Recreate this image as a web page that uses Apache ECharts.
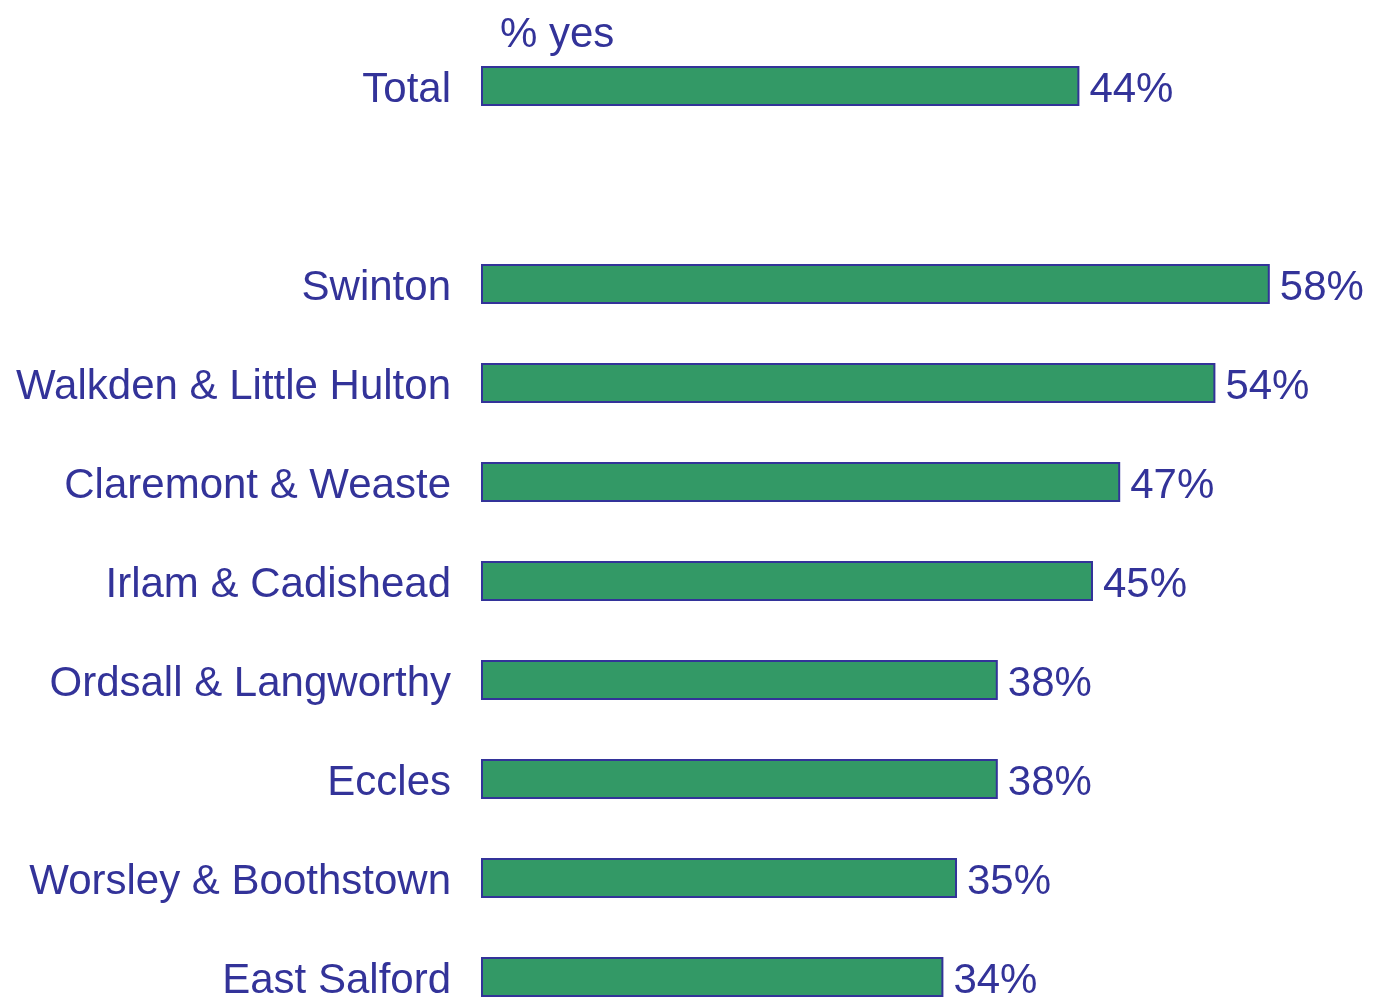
<!DOCTYPE html>
<html>
<head>
<meta charset="utf-8">
<script src="https://cdn.jsdelivr.net/npm/echarts@6/dist/echarts.min.js"></script>
<style>
html,body{margin:0;padding:0;background:#fff;}
#chart{width:1373px;height:997px;}
</style>
</head>
<body>
<div id="chart"></div>
<script>
const categories = ["Total", "", "Swinton", "Walkden & Little Hulton", "Claremont & Weaste", "Irlam & Cadishead", "Ordsall & Langworthy", "Eccles", "Worsley & Boothstown", "East Salford"];
const values = [44, null, 58, 54, 47, 45, 38, 38, 35, 34];
const axisTitle = "% yes";

const textColor = "#333399";
const txt = {fontFamily: "Liberation Sans", fontSize: 42, color: textColor, padding: [8, 0, 0, 0]};
const chart = echarts.init(document.getElementById('chart'));
chart.setOption({
  animation: false,
  backgroundColor: "#ffffff",
  title: {
    text: axisTitle,
    left: 495,
    top: 9,
    textStyle: {fontFamily: "Liberation Sans", fontSize: 42, fontWeight: "normal", color: textColor}
  },
  grid: {left: 481, top: 36.5, width: 884, height: 990, containLabel: false, outerBoundsMode: "none"},
  xAxis: {
    type: "value", min: 0, max: 65, show: false
  },
  yAxis: {
    type: "category",
    data: categories,
    inverse: true,
    axisLine: {show: false},
    axisTick: {show: false},
    splitLine: {show: false},
    axisLabel: {
      margin: 30,
      fontFamily: "Liberation Sans",
      fontSize: 42,
      color: textColor,
      formatter: v => v ? "{a|" + v + "}" : "",
      rich: {a: txt}
    }
  },
  series: [{
    type: "bar",
    data: values,
    barWidth: 40,
    itemStyle: {color: "#339966", borderColor: textColor, borderWidth: 2},
    label: {
      show: true,
      position: "right",
      distance: 10,
      formatter: p => "{a|" + p.value + "%}",
      fontFamily: "Liberation Sans",
      fontSize: 42,
      color: textColor,
      rich: {a: txt}
    }
  }]
});
</script>
</body>
</html>
